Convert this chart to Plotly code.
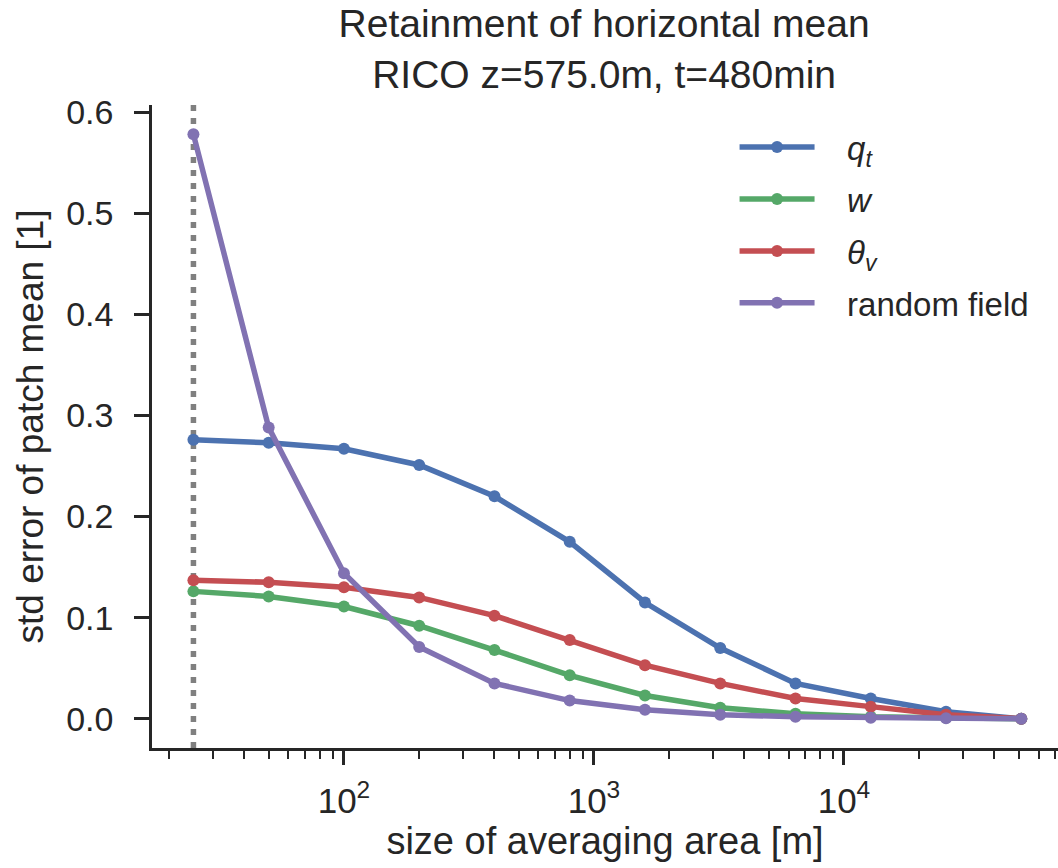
import plotly.graph_objects as go
import math

sizes = [25, 50, 100, 200, 400, 800, 1600, 3200, 6400, 12800, 25600, 51200]
qt = [0.276, 0.273, 0.267, 0.251, 0.220, 0.175, 0.115, 0.070, 0.035, 0.020, 0.007, 0.0]
w = [0.126, 0.121, 0.111, 0.092, 0.068, 0.043, 0.023, 0.011, 0.005, 0.002, 0.001, 0.0]
theta_v = [0.137, 0.135, 0.130, 0.120, 0.102, 0.078, 0.053, 0.035, 0.020, 0.012, 0.004, 0.0]
random_field = [0.578, 0.288, 0.144, 0.071, 0.035, 0.018, 0.009, 0.004, 0.002, 0.001, 0.0005, 0.0]

pad = "\u00a0\u00a0\u00a0"
series = [
    (pad + "<i>q<sub>t</sub></i>", qt, "#4C72B0"),
    (pad + "<i>w</i>", w, "#55A868"),
    (pad + "<i>θ<sub>v</sub></i>", theta_v, "#C44E52"),
    (pad + "random field", random_field, "#8172B2"),
]

x_major = [100, 1000, 10000]
x_major_text = ["10<sup>2</sup>", "10<sup>3</sup>", "10<sup>4</sup>"]
x_minor = [m * 10 ** e for e in (1, 2, 3, 4) for m in range(2, 10)]
y_ticks = [0.0, 0.1, 0.2, 0.3, 0.4, 0.5, 0.6]

font = "Liberation Sans, Arial, sans-serif"
dark = "#262626"

fig = go.Figure()
for i, (name, vals, color) in enumerate(series):
    fig.add_trace(go.Scatter(
        x=sizes, y=vals, name=name, mode="lines+markers",
        line=dict(color=color, width=5.5),
        marker=dict(color=color, size=12),
        legendgroup=str(i),
    ))

fig.add_shape(type="line", xref="x", yref="paper", x0=sizes[0], x1=sizes[0], y0=0, y1=1,
              line=dict(color="#808080", width=5.5, dash="6px,7px"), layer="below")

fig.update_layout(
    width=1058, height=868,
    margin=dict(l=152, r=0, t=105, b=120),
    paper_bgcolor="white", plot_bgcolor="white",
    font=dict(family=font, color=dark, size=30),
    title=dict(text="Retainment of horizontal mean<br>RICO z=575.0m, t=480min",
               x=0.571, xanchor="center", y=0.957, yanchor="top",
               font=dict(size=39, color=dark)),
    showlegend=True,
    legend=dict(x=0.643, y=0.978, xanchor="left", yanchor="top",
                font=dict(size=33, color=dark), bgcolor="rgba(0,0,0,0)",
                tracegroupgap=6, traceorder="grouped", itemwidth=75),
)

fig.update_xaxes(
    type="log", range=[math.log10(17.07), math.log10(71800)],
    tickvals=x_major, ticktext=x_major_text,
    ticks="outside", ticklen=14, tickwidth=2.5, tickcolor=dark,
    minor=dict(tickvals=x_minor, ticks="outside", ticklen=8, tickwidth=2, tickcolor=dark),
    showline=True, linecolor=dark, linewidth=2.5, showgrid=False, zeroline=False,
    tickfont=dict(size=35), ticklabelstandoff=6,
    title=dict(text="size of averaging area [m]", font=dict(size=38), standoff=8),
)
fig.update_yaxes(
    range=[-0.0289, 0.607], tickvals=y_ticks, tickformat=".1f",
    ticks="outside", ticklen=15, tickwidth=2.5, tickcolor=dark,
    showline=True, linecolor=dark, linewidth=2.5, showgrid=False, zeroline=False,
    tickfont=dict(size=34), ticklabelstandoff=14,
    title=dict(text="std error of patch mean [1]", font=dict(size=37), standoff=12),
)

fig.write_html("out.html")
